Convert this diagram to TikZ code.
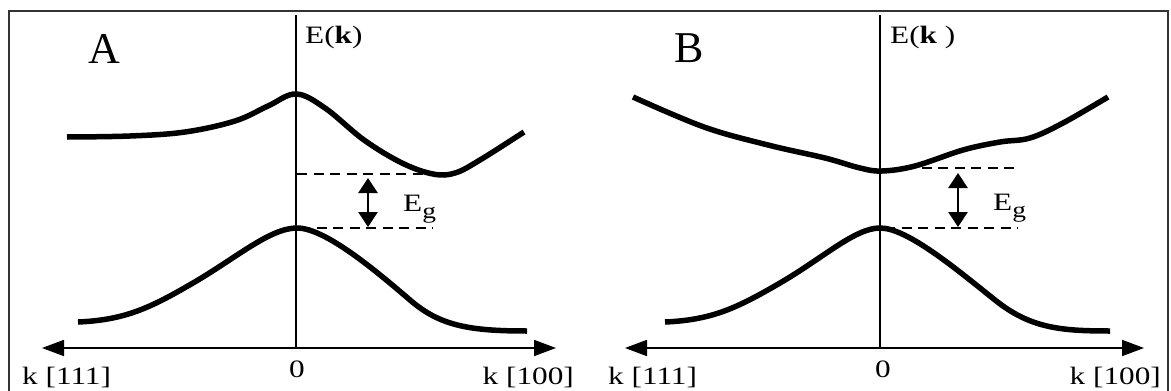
\documentclass[tikz,border=0pt]{standalone}
\usepackage{fontspec}
\setmainfont{Liberation Serif}
\usetikzlibrary{arrows.meta}
\newcommand{\wide}[1]{\scalebox{1.25}[1]{#1}}
\begin{document}
\begin{tikzpicture}[x=1pt,y=-1pt,
  frame/.style={draw=black!80,line width=2.2pt},
  band/.style={line width=5.5pt},
  axisline/.style={line width=1.8pt},
  axisarrow/.style={axisline,{Triangle[length=22pt,width=16pt]}-{Triangle[length=22pt,width=16pt]}},
  gapline/.style={line width=2.4pt,dash pattern=on 10pt off 6.5pt},
  gaparrow/.style={line width=2.8pt,{Triangle[length=15pt,width=19pt]}-{Triangle[length=15pt,width=19pt]}},
  lbl/.style={inner sep=0pt,font=\fontsize{25}{30}\selectfont},
  big/.style={inner sep=0pt,font=\fontsize{44}{48}\selectfont}]
\useasboundingbox (0,0) rectangle (1171,391);
\fill[white] (0,0) rectangle (1171,391);
% frame
\coordinate (f1) at (9,391);
\coordinate (f2) at (9,11);
\coordinate (f3) at (1168,11);
\coordinate (f4) at (1168,391);
\draw[frame] (f1) -- (f2) -- (f3) -- (f4);

% ---------- Panel A ----------
\coordinate (Atop) at (296,15);
\coordinate (Abot) at (296,348);
\coordinate (AL) at (42,348);
\coordinate (AR) at (556,348);
\draw[axisline] (Atop) -- (Abot);
\draw[axisarrow] (AL) -- (AR);
\node[big,anchor=base west] (labA) at (88,63) {A};
\node[lbl,anchor=base west] (EkA) at (305,43) {\wide{E(\textbf{k})}};
\node[lbl,anchor=base] (zeroA) at (297,377) {\wide{0}};
\node[lbl,anchor=base west] (k111A) at (22,384) {\wide{k [111]}};
\node[lbl,anchor=base east] (k100A) at (574,384) {\wide{k [100]}};
\draw[band] plot[smooth,tension=0.6] coordinates {(67,137) (130,136) (185,132) (235,121) (268,106) (296,94) (325,108) (364,140) (402,163) (433,174) (455,173) (480,160) (524,132)};
\draw[band] (78,322) .. controls (125,320) and (150,308) .. (193,283)
  .. controls (236,258) and (270,228) .. (297,228)
  .. controls (325,228) and (375,270) .. (410,300)
  .. controls (440,326) and (470,331) .. (527,331);
\coordinate (Agu1) at (297,174);
\coordinate (Agu2) at (425,174);
\coordinate (Agl1) at (300,228);
\coordinate (Agl2) at (433,228);
\draw[gapline] (Agu1) -- (Agu2);
\draw[gapline] (Agl1) -- (Agl2);
\coordinate (Aa1) at (368,178);
\coordinate (Aa2) at (368,227);
\draw[gaparrow] (Aa1) -- (Aa2);
\node[lbl,anchor=base west] (EgA) at (403,211) {\wide{E\raisebox{-7pt}{\fontsize{22}{22}\selectfont g}}};

% ---------- Panel B ----------
\coordinate (Btop) at (880,15);
\coordinate (Bbot) at (880,348);
\coordinate (BL) at (625,348);
\coordinate (BR) at (1144,348);
\draw[axisline] (Btop) -- (Bbot);
\draw[axisarrow] (BL) -- (BR);
\node[big,anchor=base west] (labB) at (674,62) {B};
\node[lbl,anchor=base west] (EkB) at (890,43) {\wide{E(\textbf{k} )}};
\node[lbl,anchor=base] (zeroB) at (883,377) {\wide{0}};
\node[lbl,anchor=base west] (k111B) at (608,384) {\wide{k [111]}};
\node[lbl,anchor=base east] (k100B) at (1161,384) {\wide{k [100]}};
\draw[band] plot[smooth,tension=0.6] coordinates {(633,97) (704,127) (768,145) (825,158) (860,168) (882,171) (915,166) (963,150) (1000,142) (1030,138) (1063,123) (1108,97)};
\draw[band] (665,322) .. controls (712,320) and (737,308) .. (780,283)
  .. controls (823,258) and (855,228) .. (880,228)
  .. controls (907,228) and (955,268) .. (995,300)
  .. controls (1030,328) and (1060,331) .. (1110,331);
\coordinate (Bgu1) at (905,168);
\coordinate (Bgu2) at (1018,168);
\coordinate (Bgl1) at (885,228);
\coordinate (Bgl2) at (1018,228);
\draw[gapline] (Bgu1) -- (Bgu2);
\draw[gapline] (Bgl1) -- (Bgl2);
\coordinate (Ba1) at (958,173);
\coordinate (Ba2) at (958,227);
\draw[gaparrow] (Ba1) -- (Ba2);
\node[lbl,anchor=base west] (EgB) at (993,210) {\wide{E\raisebox{-7pt}{\fontsize{22}{22}\selectfont g}}};
\end{tikzpicture}
\end{document}
